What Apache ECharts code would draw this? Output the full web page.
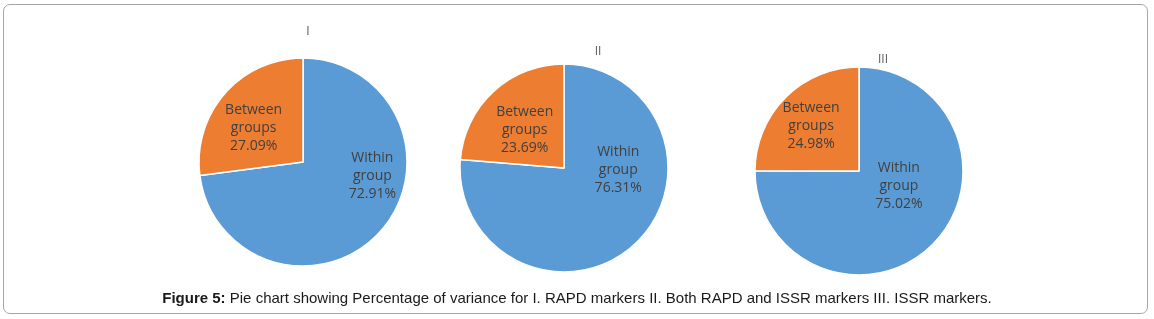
<!DOCTYPE html>
<html>
<head>
<meta charset="utf-8">
<script src="https://cdn.jsdelivr.net/npm/echarts@6/dist/echarts.min.js"></script>
<style>
html,body{margin:0;padding:0;background:#fff;}
#chart{position:absolute;left:0;top:0;width:1154px;height:319px;}
#frame{position:absolute;left:3px;top:4px;width:1143px;height:308px;border:1px solid #a6a6a6;border-radius:7px;pointer-events:none;}
</style>
</head>
<body>
<div id="chart"></div>
<div id="frame"></div>
<script>
const pieTitles = ['I', 'II', 'III'];
const categories = ['Within\ngroup', 'Between\ngroups'];
const withinValues = [72.91, 76.31, 75.02];
const betweenValues = [27.09, 23.69, 24.98];
const caption = 'Pie chart showing Percentage of variance for I. RAPD markers II. Both RAPD and ISSR markers III. ISSR markers.';
const captionLead = 'Figure 5:';

const centers = [[303, 162], [564, 168], [859, 171]];
const titlePos = [[303, 21], [593, 41], [878, 49]];
const withinOffsets = [[28, -22], [17, -38], [1, -24]];
const betweenOffsets = [[-8, 2], [-2, 2], [-9, -6]];
const colors = ['#5b9bd5', '#ed7d31'];

const chart = echarts.init(document.getElementById('chart'));
const titles = pieTitles.map((t, i) => ({
  text: t, left: titlePos[i][0], top: titlePos[i][1], textAlign: 'center',
  textStyle: {fontSize: 12, fontWeight: 'normal', color: '#595959', fontFamily: 'Open Sans'}
}));
titles.push({
  text: '{b|' + captionLead + '} ' + caption,
  left: 'center', top: 286,
  textStyle: {
    fontSize: 15, fontWeight: 'normal', color: '#1a1a1a', fontFamily: 'Liberation Sans',
    rich: {b: {fontSize: 15, fontWeight: 'bold', color: '#1a1a1a', fontFamily: 'Liberation Sans'}}
  }
});
const series = pieTitles.map((t, i) => ({
  type: 'pie', center: centers[i], radius: 104, startAngle: 90, clockwise: true,
  silent: true, animation: false,
  itemStyle: {borderColor: '#fff', borderWidth: 1.5},
  label: {
    position: 'inside', formatter: p => p.name + '\n' + p.value.toFixed(2) + '%',
    fontSize: 14, lineHeight: 18, color: '#404040', fontFamily: 'Open Sans'
  },
  labelLine: {show: false},
  data: [
    {name: categories[0], value: withinValues[i], itemStyle: {color: colors[0]}, label: {offset: withinOffsets[i]}},
    {name: categories[1], value: betweenValues[i], itemStyle: {color: colors[1]}, label: {offset: betweenOffsets[i]}}
  ]
}));
chart.setOption({backgroundColor: '#fff', animation: false, title: titles, series: series});
</script>
</body>
</html>
